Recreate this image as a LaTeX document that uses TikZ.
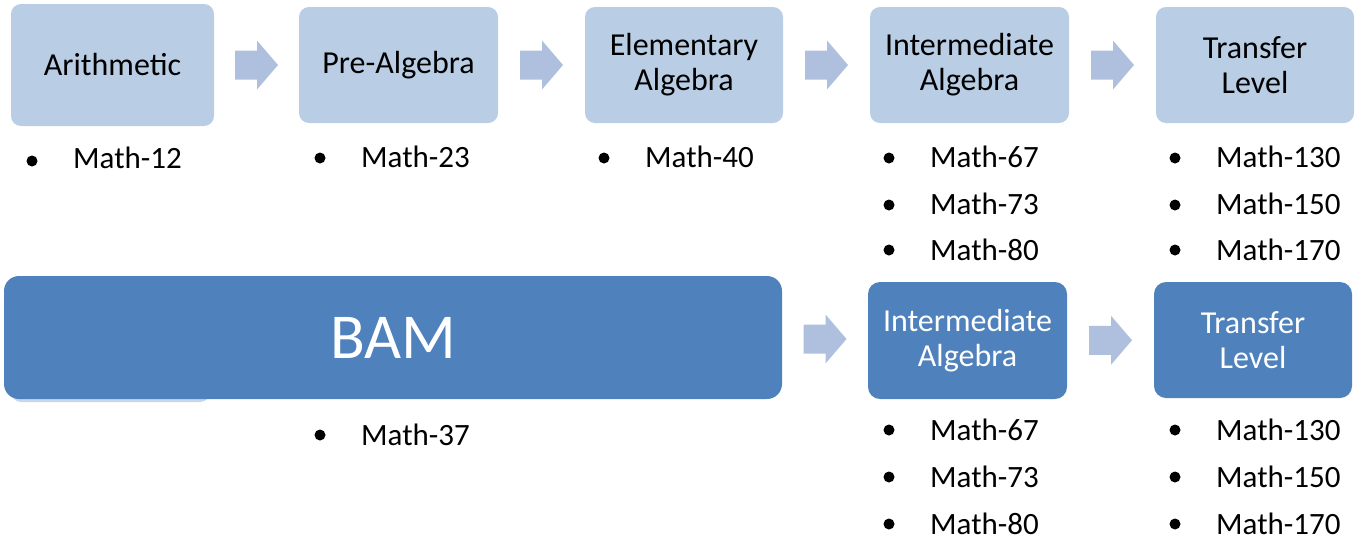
\documentclass[tikz,border=0pt]{standalone}
\usepackage{fontspec}
\setmainfont{Carlito}
\usetikzlibrary{calc}
\definecolor{lightbox}{HTML}{B9CDE5}
\definecolor{ghostbox}{HTML}{C6D6EB}
\definecolor{darkbox}{HTML}{4F81BD}
\definecolor{arrowc}{HTML}{AFC0DE}
\tikzset{
  topbox/.style={fill=lightbox, rounded corners=10pt, inner sep=0pt, align=center,
    font=\fontsize{32}{35}\selectfont, text=black},
  botbox/.style={fill=darkbox, rounded corners=12pt, inner sep=0pt, align=center,
    font=\fontsize{32}{35}\selectfont, text=white},
  dotnode/.style={circle, fill=black, inner sep=0pt, minimum size=11pt},
  itemtext/.style={anchor=base west, inner sep=0pt, font=\fontsize{31}{36}\selectfont},
  arrowfill/.style={fill=arrowc}
}
\newcommand{\blkarr}[3]{%
  \path ($(#1.east)!0.5!(#2.west)$) coordinate (#3);
  \fill[arrowfill] ([shift={(-21.5,-14.5)}]#3) -- ([shift={(0.5,-14.5)}]#3)
    -- ([shift={(0.5,-24.5)}]#3) -- ([shift={(21.5,0)}]#3)
    -- ([shift={(0.5,24.5)}]#3) -- ([shift={(0.5,14.5)}]#3)
    -- ([shift={(-21.5,14.5)}]#3) -- cycle;}
\newcommand{\itm}[5]{%
  \node[dotnode] (#1dot) at (#2,#3) {};
  \node[itemtext] (#1) at (#2+41,#4) {#5};}
\begin{document}
\begin{tikzpicture}[x=1pt,y=-1pt]
\useasboundingbox (0,0) rectangle (1360,539);
% top row
\node[topbox, minimum width=203pt, minimum height=122pt] (arith) at (112.5,65) {Arithmetic};
\node[topbox, minimum width=199pt, minimum height=116pt] (pre) at (398.5,65) {Pre-Algebra};
\node[topbox, minimum width=198pt, minimum height=116pt] (elem) at (684,65) {Elementary\\Algebra};
\node[topbox, minimum width=199pt, minimum height=116pt] (inter) at (969.5,65) {Intermediate\\Algebra};
\node[topbox, minimum width=198pt, minimum height=116pt] (trans) at (1255,65) {Transfer\\Level};
\blkarr{arith}{pre}{a1}
\blkarr{pre}{elem}{a2}
\blkarr{elem}{inter}{a3}
\blkarr{inter}{trans}{a4}
% bottom row
\node[fill=ghostbox, rounded corners=10pt, minimum width=199pt, minimum height=119pt, inner sep=0pt] (ghost) at (110.5,342.5) {};
\node[botbox, rounded corners=15pt, minimum width=778pt, minimum height=123pt,
  font=\fontsize{64}{70}\selectfont] (bam) at (393,337.5) {BAM};
\node[botbox, minimum width=199pt, minimum height=117pt] (inter2) at (967.5,340.5) {Intermediate\\Algebra};
\node[botbox, minimum width=198pt, minimum height=116pt] (trans2) at (1253,340) {Transfer\\Level};
\blkarr{bam}{inter2}{b1}
\blkarr{inter2}{trans2}{b2}
% items top
\itm{m12}{32}{161}{168}{Math-12}
\itm{m23}{320}{158}{167}{Math-23}
\itm{m40}{604}{158}{167}{Math-40}
\itm{m67}{889}{158}{167}{Math-67}
\itm{m73}{889}{205}{214}{Math-73}
\itm{m80}{889}{250}{260}{Math-80}
\itm{m130}{1175}{158}{167}{Math-130}
\itm{m150}{1175}{205}{214}{Math-150}
\itm{m170}{1175}{250}{260}{Math-170}
% items bottom
\itm{m37}{320}{435}{445}{Math-37}
\itm{mb67}{889}{430}{440}{Math-67}
\itm{mb73}{889}{477}{487}{Math-73}
\itm{mb80}{889}{524}{534}{Math-80}
\itm{mb130}{1175}{430}{440}{Math-130}
\itm{mb150}{1175}{477}{487}{Math-150}
\itm{mb170}{1175}{524}{534}{Math-170}
\end{tikzpicture}
\end{document}
